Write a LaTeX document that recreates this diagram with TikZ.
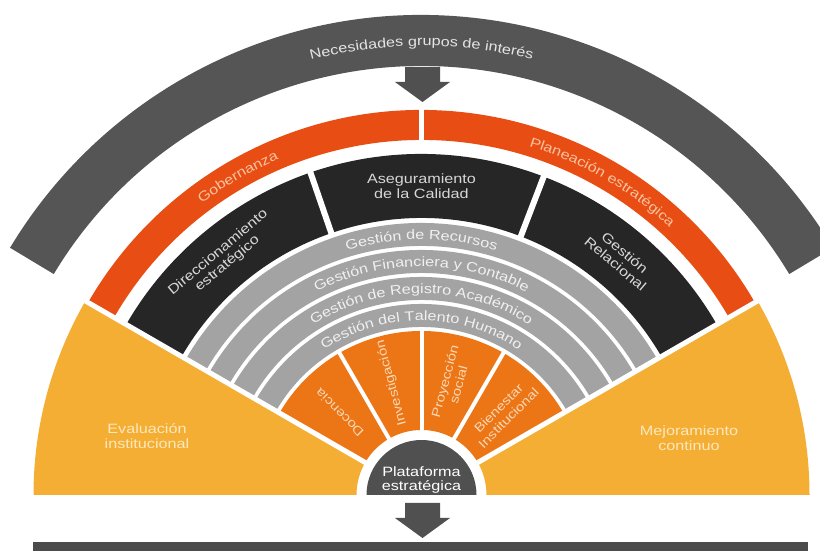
\documentclass[tikz,border=0pt]{standalone}
\usepackage{fontspec}
\setmainfont{Liberation Sans}[FakeStretch=1.2]
\usetikzlibrary{decorations.text}
\definecolor{garc}{RGB}{85,85,85}
\definecolor{oband}{RGB}{232,78,20}
\definecolor{bbox}{RGB}{38,38,38}
\definecolor{gband}{RGB}{163,163,163}
\definecolor{osec}{RGB}{236,118,22}
\definecolor{yel}{RGB}{245,174,52}
\definecolor{plat}{RGB}{80,80,80}
\definecolor{arr}{RGB}{80,80,80}
\definecolor{bar}{RGB}{75,75,75}
\definecolor{garctxt}{RGB}{228,228,228}
\definecolor{obandtxt}{RGB}{250,195,160}
\definecolor{btxt}{RGB}{215,215,215}
\definecolor{gbtxt}{RGB}{240,240,240}
\definecolor{osectxt}{RGB}{250,215,180}
\definecolor{ytxt}{RGB}{252,232,190}
\newcommand\annsec[5]{\fill[#1] (#4:#3) arc[start angle=#4,end angle=#5,radius=#3] -- (#5:#2) arc[start angle=#5,end angle=#4,radius=#2] -- cycle;}
\newcommand\arctext[5]{\path[decorate,decoration={text along path,text align=center,text={|\fontsize{13.5}{14}\selectfont\color{#4}|#5}}] (#2:#1) arc[start angle=#2,end angle=#3,radius=#1];}
\newcommand\blockarrow[2]{\fill[arr] (#1-17.5,#2) -- (#1+17.5,#2) -- (#1+17.5,#2-15) -- (#1+27.5,#2-15) -- (#1,#2-35) -- (#1-27.5,#2-15) -- (#1-17.5,#2-15) -- cycle;}
\begin{document}
\begin{tikzpicture}[x=1pt,y=1pt,
  lbl/.style={font=\fontsize{13.5}{14.5}\selectfont, align=center, inner sep=0pt},
  slbl/.style={font=\fontsize{12.5}{14}\selectfont, align=center, inner sep=0pt, text=osectxt},
  ylbl/.style={font=\fontsize{13.5}{15}\selectfont, align=center, inner sep=0pt, text=ytxt}]
\useasboundingbox (0,0) rectangle (820,551);
\fill[white] (0,0) rectangle (820,551);
\begin{scope}[shift={(421.5,56)}]
  % outer grey arc
  \annsec{garc}{429}{480}{31}{149}
  % orange band
  \annsec{oband}{355}{385}{30}{150}
  % black band
  \annsec{bbox}{277}{341}{30}{150}
  % grey bands
  \annsec{gband}{249}{272}{30}{150}
  \annsec{gband}{222}{245}{30}{150}
  \annsec{gband}{195}{218}{30}{150}
  \annsec{gband}{168}{191}{30}{150}
  % orange sectors
  \annsec{osec}{65}{164}{30}{150}
  % separators
  \draw[white, line width=5pt] (90:352) -- (90:388);
  \draw[white, line width=6pt] (69:275) -- (69:345);
  \draw[white, line width=6pt] (109:275) -- (109:345);
  \foreach \a in {60,90,120} \draw[white, line width=4pt] (\a:60) -- (\a:167);
  % yellow wedges
  \annsec{yel}{65}{388}{0}{30}
  \annsec{yel}{65}{388}{150}{180}
  \draw[white, line width=5pt] (30:60) -- (30:392);
  \draw[white, line width=5pt] (150:60) -- (150:392);
  % platform
  \fill[plat] (0:55) arc[start angle=0,end angle=180,radius=55] -- cycle;
  % curved texts
  \arctext{449}{150}{30}{garctxt}{Necesidades grupos de inter{é}s}
  \arctext{365}{150}{90}{obandtxt}{Gobernanza}
  \arctext{365}{90}{30}{obandtxt}{Planeaci{ó}n estrat{é}gica}
  \arctext{255.5}{150}{30}{gbtxt}{Gesti{ó}n de Recursos}
  \arctext{228.5}{150}{30}{gbtxt}{Gesti{ó}n Financiera y Contable}
  \arctext{201.5}{150}{30}{gbtxt}{Gesti{ó}n de Registro Acad{é}mico}
  \arctext{174.5}{150}{30}{gbtxt}{Gesti{ó}n del Talento Humano}
  % black box labels
  \node[lbl, text=btxt, rotate=40] (direc) at (130:309) {Direccionamiento\\estrat{é}gico};
  \node[lbl, text=btxt] (aseg) at (90:309) {Aseguramiento\\de la Calidad};
  \node[lbl, text=btxt, rotate=-40] (grel) at (50:309) {Gesti{ó}n\\Relacional};
  % orange sector labels
  \node[slbl, rotate=135] (doc) at (135:116) {Docencia};
  \node[slbl, rotate=105] (inv) at (105:116) {Investigaci{ó}n};
  \node[slbl, rotate=75] (proy) at (75:116) {Proyecci{ó}n\\social};
  \node[slbl, rotate=45] (bien) at (45:116) {Bienestar\\Institucional};
\end{scope}
% yellow labels
\node[ylbl] (eval) at (147,115) {Evaluaci{ó}n\\institucional};
\node[ylbl] (mejo) at (689,113) {Mejoramiento\\continuo};
% platform label
\node[lbl, text=white] (platlbl) at (421.5,71) {Plataforma\\estrat{é}gica};
% arrows
\blockarrow{422.5}{484}
\blockarrow{422.5}{48}
% bottom bar
\fill[bar] (33,0) rectangle (808,9);
\end{tikzpicture}
\end{document}
